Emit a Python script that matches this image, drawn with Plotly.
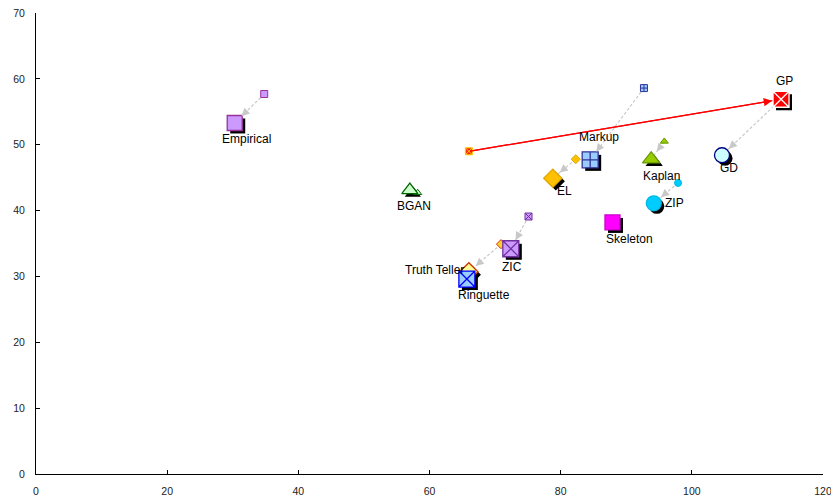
import math
import plotly.graph_objects as go

# ---------------- data ----------------
names = ["Empirical", "GP", "Markup", "EL", "Kaplan", "ZIP", "GD",
         "Skeleton", "BGAN", "ZIC", "Truth Teller", "Ringuette"]
final_x = [30.3, 113.6, 84.5, 78.8, 93.8, 94.2, 104.6, 87.9, 57.0, 72.4, 66.0, 65.7]
final_y = [53.3, 56.9, 47.7, 44.9, 47.8, 41.1, 48.4, 38.2, 43.1, 34.2, 30.7, 29.6]
start_x = [34.8, 66.0, 92.7, 82.3, 95.8, 97.9, None, None, 58.2, 75.1, 70.9, None]
start_y = [57.7, 49.0, 58.6, 47.8, 50.5, 44.2, None, None, 42.7, 39.1, 34.9, None]
x_ticks = [0, 20, 40, 60, 80, 100, 120]
y_ticks = [0, 10, 20, 30, 40, 50, 60, 70]

# ---------------- style ----------------
W, H = 839, 497
PAGE_OFF = 8                      # default page margin of the html body
PLOT_W, PLOT_H = 787, 461
ML, MT = 36 - PAGE_OFF, 13 - PAGE_OFF
MR, MB = W - ML - PLOT_W, H - MT - PLOT_H
XR = [0, 120]
YR = [0, 70]
PX_X = PLOT_W / (XR[1] - XR[0])
PX_Y = PLOT_H / (YR[1] - YR[0])
SHADOW = 3

style = {
    "Empirical":    dict(sym="square",      fill="#CC99FF", line="#993399", size=15),
    "GP":           dict(sym="square-x",    fill="#FF0000", line="#FFFFFF", size=16),
    "Markup":       dict(sym="square-cross", fill="#99CCFF", line="#333399", size=16),
    "EL":           dict(sym="diamond",     fill="#FFC000", line="#E0A800", size=14),
    "Kaplan":       dict(sym="triangle-up", fill="#99CC00", line="#669900", size=15),
    "ZIP":          dict(sym="circle",      fill="#00CCFF", line="#00B8E6", size=15),
    "GD":           dict(sym="circle",      fill="#CCFFFF", line="#000080", size=15),
    "Skeleton":     dict(sym="square",      fill="#FF00FF", line="#CC00CC", size=15),
    "BGAN":         dict(sym="triangle-up", fill="#CCFFCC", line="#006600", size=14),
    "ZIC":          dict(sym="square-x",    fill="#CC99FF", line="#7030A0", size=16),
    "Truth Teller": dict(sym="diamond",     fill="#FFFF99", line="#CC3300", size=14),
    "Ringuette":    dict(sym="square-x",    fill="#99CCFF", line="#0000FF", size=16),
}
small_style = {
    "GP": dict(sym="square-x", fill="#FF2200", line="#FFCC00"),
    "Truth Teller": dict(sym="diamond", fill="#FFCC33", line="#CC3300"),
}
SMALL = 7
label_shift = {
    "Empirical": (12, -16), "GP": (3, 18), "Markup": (9, 23), "EL": (12, -13),
    "Kaplan": (10, -17), "ZIP": (21, 0), "GD": (7, -13), "Skeleton": (17, -17),
    "BGAN": (4, -16), "ZIC": (1, -18), "Truth Teller": (-34, 2), "Ringuette": (17, -16),
}
gray_arrows = ["Empirical", "Markup", "EL", "Kaplan", "ZIP", "ZIC", "Truth Teller"]
FONT = "Liberation Sans, Arial, sans-serif"

def base_sym(s):
    return s.replace("-x", "").replace("-cross", "")

fig = go.Figure()

# shadows on the (hidden) shifted base axes -> drawn underneath
fig.add_trace(go.Scatter(
    x=final_x, y=final_y, mode="markers", xaxis="x", yaxis="y",
    marker=dict(symbol=[base_sym(style[n]["sym"]) for n in names],
                size=[style[n]["size"] for n in names], color="#000000",
                opacity=1, line=dict(width=0)),
    hoverinfo="skip", showlegend=False))

# dashed connector lines
lx, ly = [], []
arrows = []
for i, n in enumerate(names):
    if n in gray_arrows:
        lx += [start_x[i], final_x[i], None]
        ly += [start_y[i], final_y[i], None]
        arrows.append((start_x[i], start_y[i], final_x[i], final_y[i], style[n]["size"]))
# GD moved from the GP position
gi, gdi = names.index("GP"), names.index("GD")
lx += [final_x[gi], final_x[gdi], None]
ly += [final_y[gi], final_y[gdi], None]
arrows.append((final_x[gi], final_y[gi], final_x[gdi], final_y[gdi], style["GD"]["size"]))

fig.add_trace(go.Scatter(
    x=lx, y=ly, mode="lines", xaxis="x2", yaxis="y2",
    line=dict(color="#C8C8C8", width=1.2, dash="3px,2px"),
    hoverinfo="skip", showlegend=False))

# red solid GP path
fig.add_trace(go.Scatter(
    x=[start_x[gi], final_x[gi]], y=[start_y[gi], final_y[gi]], mode="lines",
    xaxis="x2", yaxis="y2", line=dict(color="#FF0000", width=1.2),
    hoverinfo="skip", showlegend=False))

# small (initial) markers
sidx = [i for i, n in enumerate(names) if start_x[i] is not None]
fig.add_trace(go.Scatter(
    x=[start_x[i] for i in sidx], y=[start_y[i] for i in sidx], mode="markers",
    xaxis="x2", yaxis="y2",
    marker=dict(
        symbol=[small_style.get(names[i], style[names[i]])["sym"] for i in sidx],
        size=SMALL, opacity=1,
        color=[small_style.get(names[i], style[names[i]])["fill"] for i in sidx],
        line=dict(color=[small_style.get(names[i], style[names[i]])["line"] for i in sidx],
                  width=1)),
    hoverinfo="skip", showlegend=False))

# big (final) markers
fig.add_trace(go.Scatter(
    x=final_x, y=final_y, mode="markers", xaxis="x2", yaxis="y2",
    marker=dict(symbol=[style[n]["sym"] for n in names],
                size=[style[n]["size"] for n in names], opacity=1,
                color=[style[n]["fill"] for n in names],
                line=dict(color=[style[n]["line"] for n in names], width=1.3)),
    text=names, hoverinfo="text", showlegend=False))

annotations = []
# arrow heads for gray connectors
for sx, sy, fx, fy, sz in arrows:
    dxp = (sx - fx) * PX_X
    dyp = (sy - fy) * PX_Y
    L = math.hypot(dxp, dyp)
    so = sz / 2 + 2
    t = min(1.0, (so + 8) / L)
    annotations.append(dict(
        x=fx, y=fy, ax=fx + (sx - fx) * t, ay=fy + (sy - fy) * t,
        xref="x2", yref="y2", axref="x2", ayref="y2", text="",
        showarrow=True, arrowhead=2, arrowsize=1.6, arrowwidth=1,
        arrowcolor="#C8C8C8", standoff=so))
# red arrow head
annotations.append(dict(
    x=final_x[gi], y=final_y[gi], ax=start_x[gi], ay=start_y[gi],
    xref="x2", yref="y2", axref="x2", ayref="y2", text="",
    showarrow=True, arrowhead=2, arrowsize=1.4, arrowwidth=1.2,
    arrowcolor="#FF0000", standoff=style["GP"]["size"] / 2 + 1))
# labels
for i, n in enumerate(names):
    xs, ys = label_shift[n]
    annotations.append(dict(
        x=final_x[i], y=final_y[i], xref="x2", yref="y2", text=n,
        showarrow=False, xshift=xs, yshift=ys,
        font=dict(family=FONT, size=12, color="#000000")))

axis_common = dict(showgrid=False, zeroline=False, automargin=False)
fig.update_layout(
    template="none",
    width=W, height=H,
    margin=dict(l=ML, r=MR, t=MT, b=MB, pad=0, autoexpand=False),
    paper_bgcolor="#FFFFFF", plot_bgcolor="#FFFFFF",
    showlegend=False,
    font=dict(family=FONT, size=10, color="#000000"),
    xaxis=dict(range=[XR[0] - SHADOW / PX_X, XR[1] - SHADOW / PX_X],
               showline=False, showticklabels=False, ticks="", **axis_common),
    yaxis=dict(range=[YR[0] + SHADOW / PX_Y, YR[1] + SHADOW / PX_Y],
               showline=False, showticklabels=False, ticks="", **axis_common),
    xaxis2=dict(range=XR, overlaying="x", anchor="y2", side="bottom",
                showline=True, linecolor="#000000", linewidth=1,
                ticks="inside", ticklen=4, tickcolor="#000000",
                tickvals=x_ticks, ticktext=[str(v) for v in x_ticks],
                tickfont=dict(family=FONT, size=10.5, color="#222222"),
                ticklabelstandoff=7, ticklabeloverflow="allow",
                **axis_common),
    yaxis2=dict(range=YR, overlaying="y", anchor="x2", side="left",
                showline=True, linecolor="#000000", linewidth=1,
                ticks="inside", ticklen=4, tickcolor="#000000",
                tickvals=y_ticks, ticktext=[str(v) for v in y_ticks],
                tickfont=dict(family=FONT, size=10.5, color="#222222"),
                ticklabelstandoff=8, ticklabeloverflow="allow",
                **axis_common),
    annotations=annotations,
)

fig.write_html("out.html")
